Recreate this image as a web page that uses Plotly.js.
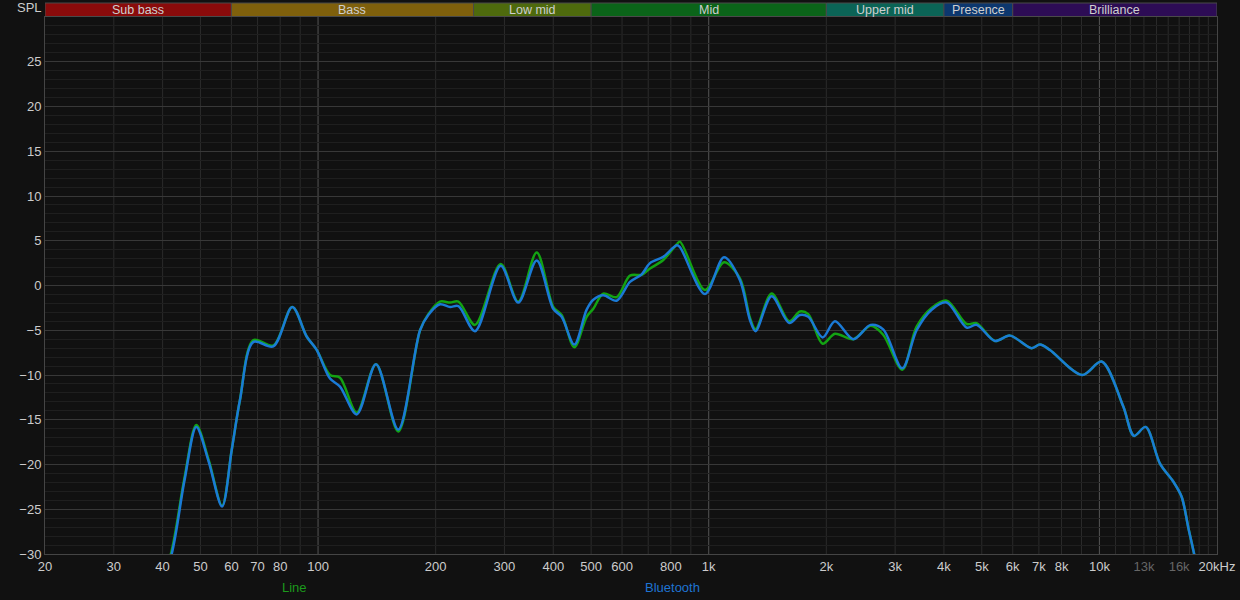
<!DOCTYPE html>
<html>
<head>
<meta charset="utf-8">
<script src="https://cdn.plot.ly/plotly-3.0.1.min.js"></script>
<style>
html,body{margin:0;padding:0;background:#111111;}
#chart{width:1240px;height:600px;}
</style>
</head>
<body>
<div id="chart"></div>
<script>
// Frequencies (Hz) shared by both measurements
const freqs = [38, 42.2, 45.5, 48.8, 52.5, 56.8, 60.1, 63.1, 68.3, 76.8, 85.9, 93.5, 99.2, 107.3, 113.8, 125.6, 140.7, 160.4, 182.4, 191.5, 205.1, 217.7, 228.7, 252.2, 293.4, 325.4, 362.8, 400, 420.3, 452.8, 487, 506.4, 537, 581.1, 628.6, 673.6, 707.4, 764.9, 828, 844, 978.2, 1094, 1202, 1275, 1318, 1449, 1607, 1712, 1798, 1957, 2104, 2345, 2596, 2796, 3128, 3405, 3720, 4066, 4573, 4850, 5403, 5903, 6706, 7043, 7470, 9038, 10130, 11506, 12260, 13136, 14290, 15452, 16236, 16880, 17458, 18200];

// SPL (dB) – "Line"
const lineSpl = [-36, -29.6, -21.5, -15.6, -19.5, -24.6, -18.4, -12.8, -6.1, -6.7, -2.4, -5.7, -7.2, -10.0, -10.3, -14.2, -8.8, -16.3, -5.0, -3.2, -1.8, -1.9, -1.8, -4.4, 2.4, -1.8, 3.7, -2.4, -3.3, -6.9, -3.5, -2.6, -0.9, -1.3, 1.1, 1.2, 1.9, 2.85, 4.6, 4.9, -0.5, 2.6, 0.8, -3.6, -4.9, -0.9, -4.0, -2.9, -3.2, -6.5, -5.4, -6.0, -4.5, -5.5, -9.4, -4.6, -2.5, -1.7, -4.3, -4.2, -6.2, -5.6, -7.0, -6.6, -7.2, -10.0, -8.5, -13.5, -16.8, -15.8, -19.9, -21.9, -23.6, -27.0, -29.9, -34];

// SPL (dB) – "Bluetooth"
const btSpl = [-36, -30.0, -21.8, -15.8, -19.7, -24.7, -18.4, -12.8, -6.3, -6.8, -2.4, -5.7, -7.2, -10.4, -11.3, -14.4, -8.8, -16.1, -5.0, -3.3, -2.1, -2.4, -2.3, -5.1, 2.2, -1.9, 2.8, -2.6, -3.5, -6.6, -2.7, -1.6, -1.1, -1.7, 0.4, 1.25, 2.5, 3.2, 4.5, 4.3, -0.95, 3.15, 0.6, -3.85, -5.1, -1.2, -4.2, -3.3, -3.5, -5.8, -4.0, -6.0, -4.4, -4.9, -9.25, -5.0, -2.7, -1.9, -4.7, -4.4, -6.2, -5.6, -7.0, -6.6, -7.2, -10.0, -8.5, -13.5, -16.8, -15.8, -19.9, -21.9, -23.6, -27.0, -29.9, -34];

// Axis ticks
const xTickVals = [20, 30, 40, 50, 60, 70, 80, 100, 200, 300, 400, 500, 600, 800, 1000, 2000, 3000, 4000, 5000, 6000, 7000, 8000, 10000, 13000, 16000, 20000];
const xTickText = ["20", "30", "40", "50", "60", "70", "80", "100", "200", "300", "400", "500", "600", "800", "1k", "2k", "3k", "4k", "5k", "6k", "7k", "8k", "10k", "<span style=\"color:#666666\">13k</span>", "<span style=\"color:#666666\">16k</span>", "20kHz"];
const yTickVals = [-30, -25, -20, -15, -10, -5, 0, 5, 10, 15, 20, 25];

// Grid frequencies
const minorGridFreqs = [30, 40, 50, 60, 70, 80, 90, 200, 300, 400, 500, 600, 700, 800, 900, 2000, 3000, 4000, 5000, 6000, 7000, 8000, 9000, 11000, 12000, 13000, 14000, 15000, 16000, 17000, 18000, 19000];
const majorGridFreqs = [100, 1000, 10000];

// Frequency bands
const bandNames = ["Sub bass", "Bass", "Low mid", "Mid", "Upper mid", "Presence", "Brilliance"];
const bandStart = [20, 60, 250, 500, 2000, 4000, 6000];
const bandEnd = [60, 250, 500, 2000, 4000, 6000, 20000];
const bandColors = ["#8a0b0b", "#7f600c", "#4e6a0d", "#0b6419", "#0b6456", "#0c376e", "#2d0c55"];

const shapes = [];
minorGridFreqs.forEach(f => shapes.push({type:'line', xref:'x', yref:'paper', x0:f, x1:f, y0:0, y1:1, line:{color:'#2b2b2b', width:1}, layer:'below'}));
majorGridFreqs.forEach(f => shapes.push({type:'line', xref:'x', yref:'paper', x0:f, x1:f, y0:0, y1:1, line:{color:'#555555', width:1}, layer:'below'}));

const stripY0 = 1 + 0.5/537, stripY1 = 1 + 14/537;
const annotations = [];
bandNames.forEach((name, i) => {
  shapes.push({type:'rect', xref:'x', yref:'paper', x0:bandStart[i], x1:bandEnd[i], y0:stripY0, y1:stripY1, fillcolor:bandColors[i], line:{color:'#4a4a4a', width:1}});
  annotations.push({xref:'x', yref:'paper', x:Math.log10(Math.sqrt(bandStart[i]*bandEnd[i])), y:(stripY0+stripY1)/2 - 0.001, text:name, showarrow:false, xanchor:'center', yanchor:'middle', font:{color:'#cfcfcf', size:12.5}});
});
annotations.push({xref:'paper', yref:'paper', x:-0.0128, y:1.0168, text:'SPL', showarrow:false, xanchor:'center', yanchor:'middle', font:{color:'#cccccc', size:13}});
annotations.push({xref:'paper', yref:'paper', x:0.2125, y:-0.0633, text:'Line', showarrow:false, xanchor:'center', yanchor:'middle', font:{color:'#1c9a1c', size:13}});
annotations.push({xref:'paper', yref:'paper', x:0.535, y:-0.0633, text:'Bluetooth', showarrow:false, xanchor:'center', yanchor:'middle', font:{color:'#1f74d2', size:13}});

const traces = [
  {x: freqs, y: lineSpl, type:'scatter', mode:'lines', name:'Line', line:{color:'#13a313', width:2.5, shape:'spline', smoothing:0.9}, hoverinfo:'skip'},
  {x: freqs, y: btSpl, type:'scatter', mode:'lines', name:'Bluetooth', line:{color:'#1a7ad6', width:2.5, shape:'spline', smoothing:0.9}, hoverinfo:'skip'}
];

const layout = {
  width:1240, height:600,
  paper_bgcolor:'#111111', plot_bgcolor:'#111111',
  margin:{l:45, r:23, t:17, b:46},
  showlegend:false,
  font:{family:'"Liberation Sans", Arial, sans-serif', color:'#cccccc', size:13},
  xaxis:{type:'log', range:[Math.log10(20), Math.log10(20000)], tickmode:'array', tickvals:xTickVals, ticktext:xTickText,
         showgrid:false, zeroline:false, showline:true, mirror:true, linecolor:'#454545', linewidth:1, ticks:'', tickfont:{color:'#cccccc', size:13}},
  yaxis:{range:[-30, 30], tickmode:'array', tickvals:yTickVals, showgrid:true, gridcolor:'#383838', gridwidth:1, zeroline:false,
         showline:true, mirror:true, linecolor:'#454545', linewidth:1, ticks:'', ticklabelshift:1.5, tickfont:{color:'#cccccc', size:13},
         minor:{dtick:1, showgrid:true, gridcolor:'#1f1f1f', gridwidth:1}},
  shapes: shapes,
  annotations: annotations
};

Plotly.newPlot('chart', traces, layout, {staticPlot:true, displayModeBar:false});
</script>
</body>
</html>
